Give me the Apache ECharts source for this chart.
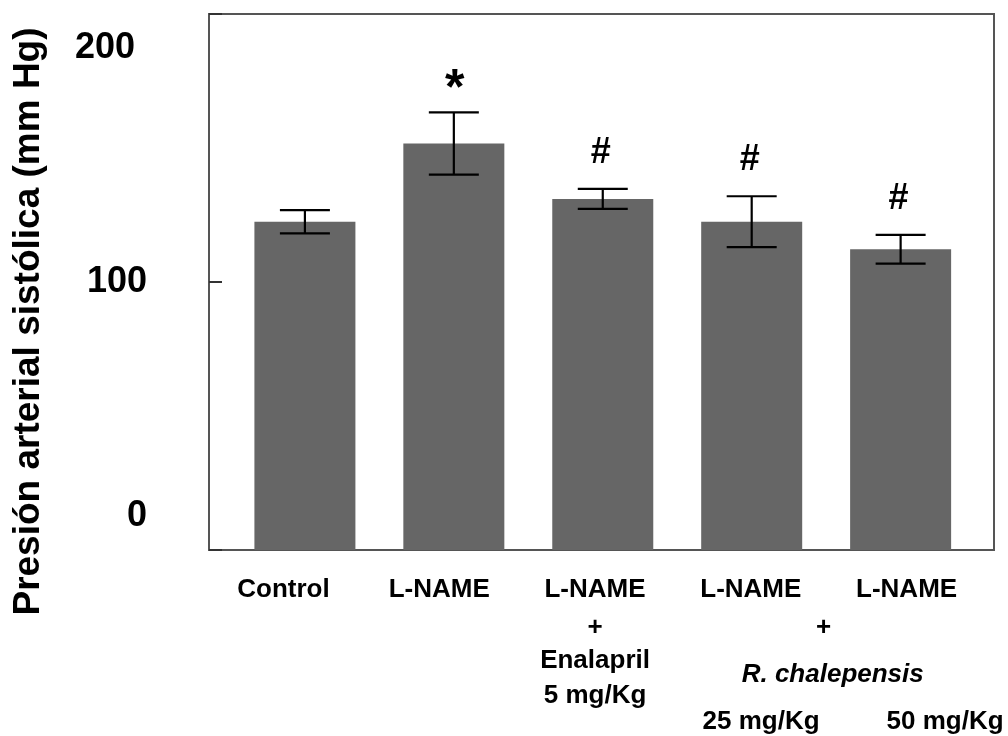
<!DOCTYPE html>
<html>
<head>
<meta charset="utf-8">
<script src="https://cdn.jsdelivr.net/npm/echarts@6/dist/echarts.min.js"></script>
<style>
  html, body { margin: 0; padding: 0; background: #fff; }
  #chart { width: 1008px; height: 736px; }
</style>
</head>
<body>
<div id="chart"></div>
<script>
// ---- data ----
const categories = [
  'Control',
  'L-NAME',
  'L-NAME + Enalapril 5 mg/Kg',
  'L-NAME + R. chalepensis 25 mg/Kg',
  'L-NAME + R. chalepensis 50 mg/Kg'
];
const meanValues = [122.5, 151.7, 131.0, 122.5, 112.2];
const semValues = [4.35, 11.6, 3.75, 9.5, 5.35];
const significance = ['', '*', '#', '#', '#'];
const yTickLabels = [0, 100, 200];
const labelTop = ['Control', 'L-NAME', 'L-NAME', 'L-NAME', 'L-NAME'];
const enalaprilLines = ['+', 'Enalapril', '5 mg/Kg'];
const chalepensisLines = ['+', 'R. chalepensis'];
const doseLines = ['25 mg/Kg', '50 mg/Kg'];
const yTitle = 'Presión arterial sistólica (mm Hg)';

// ---- chart ----
const FONT = "'Liberation Sans', Arial, Helvetica, sans-serif";
const base = { fontFamily: FONT, fontWeight: 'bold', fontSize: 26, color: '#000', align: 'center' };
const st = extra => Object.assign({}, base, extra);

function xLabel(v) {
  const i = Math.round(v);
  if (i === 2) {
    return '{name|' + labelTop[2] + '}\n{plus|' + enalaprilLines[0] + '}\n{enal|' +
      enalaprilLines[1] + '}\n{dose2|' + enalaprilLines[2] + '}';
  }
  return '{name|' + labelTop[i] + '}';
}

const hiddenAxis = { axisLine: { show: false, onZero: false }, axisTick: { show: false }, splitLine: { show: false } };

const chart = echarts.init(document.getElementById('chart'), null, { renderer: 'canvas' });

const option = {
  backgroundColor: '#fff',
  animation: false,
  grid: {
    left: 209, top: 14, right: 14, bottom: 186,
    show: true, borderColor: '#555', borderWidth: 2,
    containLabel: false, outerBoundsMode: 'none'
  },
  xAxis: [
    Object.assign({
      type: 'value', min: -0.644, max: 4.627, position: 'bottom',
      axisLabel: { show: false }
    }, hiddenAxis),
    // first rows of category labels
    Object.assign({
      type: 'value', min: -0.478, max: 4.561, position: 'bottom', offset: 0,
      axisLabel: {
        show: true, margin: 25, hideOverlap: false, showMinLabel: true, showMaxLabel: true,
        customValues: categories.map((c, i) => i),
        formatter: xLabel,
        fontFamily: FONT, fontWeight: 'bold', fontSize: 26, color: '#000',
        rich: {
          name: st({ lineHeight: 30 }),
          plus: st({ lineHeight: 46 }),
          enal: st({ lineHeight: 20 }),
          dose2: st({ lineHeight: 50 })
        }
      }
    }, hiddenAxis),
    // shared "+ R. chalepensis" between the last two categories
    Object.assign({
      type: 'value', min: -0.478, max: 4.561, position: 'bottom', offset: 0,
      axisLabel: {
        show: true, margin: 55, hideOverlap: false, showMinLabel: true, showMaxLabel: true,
        customValues: [3.5],
        formatter: () => '{plus|' + chalepensisLines[0] + '}\n{rch|' + chalepensisLines[1] + '}',
        fontFamily: FONT, fontWeight: 'bold', fontSize: 26, color: '#000',
        rich: {
          plus: st({ lineHeight: 46, padding: [0, 10, 0, 0] }),
          rch: st({ lineHeight: 48, fontStyle: 'italic', padding: [0, 0, 0, 8] })
        }
      }
    }, hiddenAxis),
    // doses of R. chalepensis
    Object.assign({
      type: 'value', min: 0, max: 4.266, position: 'bottom', offset: 0,
      axisLabel: {
        show: true, margin: 149, hideOverlap: false, showMinLabel: true, showMaxLabel: true,
        customValues: [3, 4],
        formatter: v => '{d|' + doseLines[Math.round(v) - 3] + '}',
        fontFamily: FONT, fontWeight: 'bold', fontSize: 26, color: '#000',
        rich: { d: st({ lineHeight: 46 }) }
      }
    }, hiddenAxis)
  ],
  yAxis: [
    {
      type: 'value', min: 0, max: 200, interval: 100, position: 'left',
      axisLine: { show: false, onZero: false },
      axisTick: { show: true, inside: true, length: 13, lineStyle: { color: '#333', width: 2 } },
      axisLabel: { show: false },
      splitLine: { show: false },
      name: yTitle, nameLocation: 'middle', nameRotate: 90, nameGap: 162,
      nameTextStyle: { fontFamily: FONT, fontWeight: 'bold', fontSize: 37, color: '#000',
        padding: [0, 79, 0, 0] }
    },
    Object.assign({
      type: 'value', min: -14.3, max: 214.7, position: 'left', offset: 0,
      axisLabel: {
        show: true, margin: 62,
        customValues: yTickLabels,
        formatter: v => (v === 200 ? '{t|' + v + '}' : '{n|' + v + '}'),
        rich: {
          n: { fontFamily: FONT, fontWeight: 'bold', fontSize: 36, color: '#000' },
          t: { fontFamily: FONT, fontWeight: 'bold', fontSize: 36, color: '#000', padding: [0, 12, 0, 0] }
        }
      }
    }, hiddenAxis)
  ],
  series: [
    {
      type: 'bar', xAxisIndex: 0, yAxisIndex: 0,
      barWidth: 101,
      itemStyle: { color: '#666666' },
      data: meanValues.map((m, i) => [i, m]),
      z: 2
    },
    {
      type: 'custom', xAxisIndex: 0, yAxisIndex: 0, z: 4,
      encode: { x: 0, y: 1 },
      data: meanValues.map((m, i) => [i, m, semValues[i]]),
      renderItem: function (params, api) {
        const x = api.value(0), m = api.value(1), s = api.value(2);
        const top = api.coord([x, m + s]);
        const bot = api.coord([x, m - s]);
        const hw = 25;
        const ls = { stroke: '#000', lineWidth: 2.2 };
        const children = [
          { type: 'line', shape: { x1: top[0], y1: top[1], x2: bot[0], y2: bot[1] }, style: ls },
          { type: 'line', shape: { x1: top[0] - hw, y1: top[1], x2: top[0] + hw, y2: top[1] }, style: ls },
          { type: 'line', shape: { x1: bot[0] - hw, y1: bot[1], x2: bot[0] + hw, y2: bot[1] }, style: ls }
        ];
        const sig = significance[params.dataIndex];
        if (sig) {
          const isStar = sig === '*';
          children.push({
            type: 'text',
            style: {
              text: sig, x: top[0] + (isStar ? 1 : -2), y: top[1] + (isStar ? 3 : -18),
              align: 'center', verticalAlign: 'bottom',
              font: 'bold ' + (isStar ? 50 : 36) + 'px ' + FONT,
              fill: '#000'
            }
          });
        }
        return { type: 'group', children: children };
      }
    }
  ]
};
chart.setOption(option);
</script>
</body>
</html>
